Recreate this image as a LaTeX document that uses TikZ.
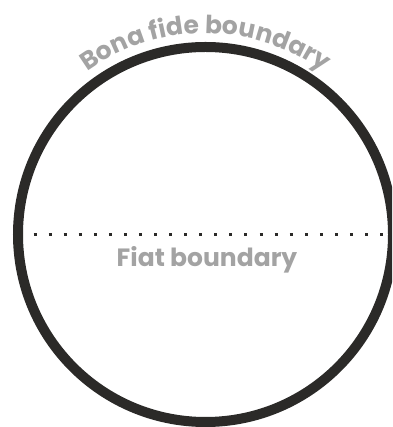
\documentclass[tikz,border=0pt]{standalone}
\usepackage{fontspec}
\setmainfont{Poppins}
\usetikzlibrary{decorations.text}
\definecolor{ringcol}{HTML}{2B2A28}
\definecolor{labelcol}{HTML}{A3A3A3}
\begin{document}
\begin{tikzpicture}[x=1pt,y=1pt,
  ring/.style={draw=ringcol, line width=10pt, circle, minimum size=375pt, inner sep=0pt},
  fiatline/.style={draw=ringcol, line width=3pt, dash pattern=on 3pt off 12.07pt},
  lbl/.style={text=labelcol, font=\fontsize{25}{28}\selectfont\bfseries}]
\useasboundingbox (0,0) rectangle (392,427);
\clip (0,0) rectangle (392,427);
\node[ring] (ring) at (205.5,192.5) {};
\coordinate (fl) at (33.5,192.5);
\coordinate (fr) at (392,192.5);
\draw[fiatline] (fl) -- (fr);
\node[lbl, anchor=base] (fiat) at (207,160) {Fiat boundary};
\path[decorate, decoration={text along path, text align=center,
  text={|\fontsize{25}{28}\selectfont\bfseries\color{labelcol}|Bona fide boundary}}]
  (ring.center) ++(145:201) arc (145:35:201);
\end{tikzpicture}
\end{document}
